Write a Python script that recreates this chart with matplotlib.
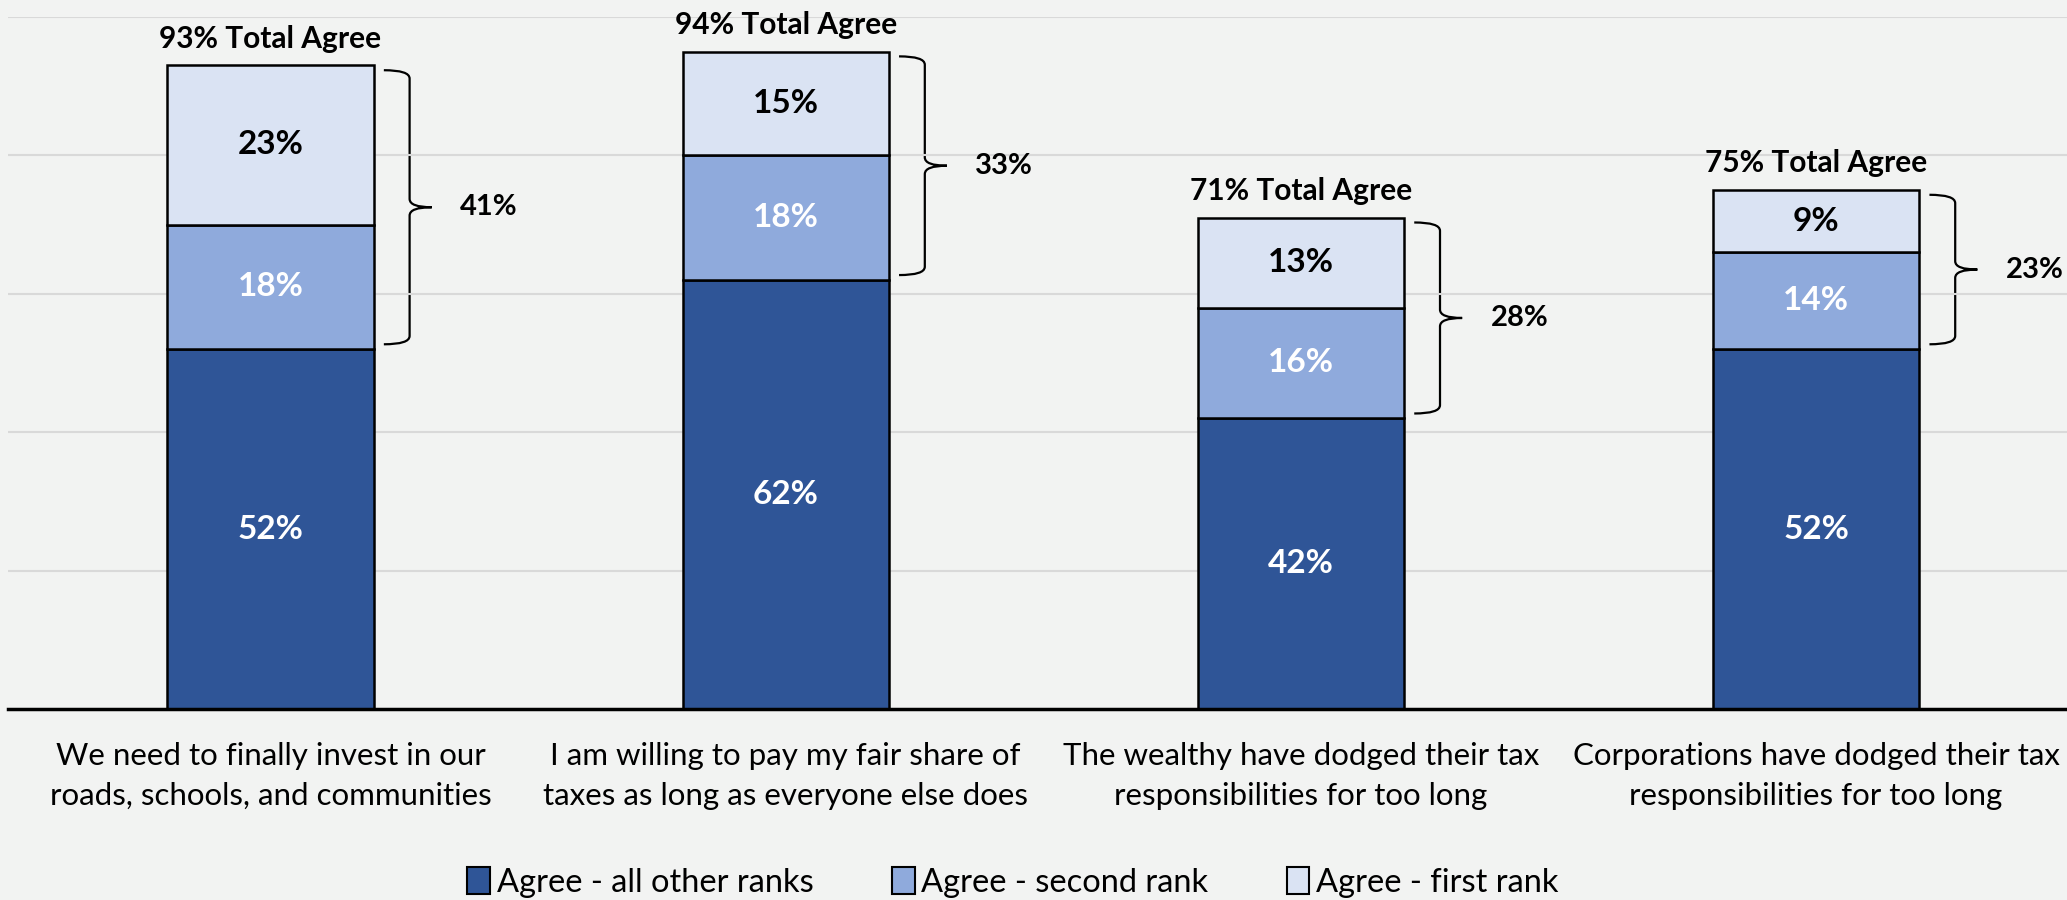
import numpy as np
import matplotlib
matplotlib.use("Agg")
from matplotlib import pyplot as plt
from matplotlib.path import Path
from matplotlib.patches import PathPatch, Patch

plt.rcParams['font.family'] = ['Lato', 'DejaVu Sans']

# data
categories = [
    "We need to finally invest in our\nroads, schools, and communities",
    "I am willing to pay my fair share of\ntaxes as long as everyone else does",
    "The wealthy have dodged their tax\nresponsibilities for too long",
    "Corporations have dodged their tax\nresponsibilities for too long",
]
other_ranks = [52, 62, 42, 52]
second_rank = [18, 18, 16, 14]
first_rank = [23, 15, 13, 9]
total_agree = [93, 94, 71, 75]
top_two = [41, 33, 28, 23]
series_names = ["Agree - all other ranks", "Agree - second rank", "Agree - first rank"]

BG = '#F2F3F2'
colors = ['#2F5597', '#8FAADC', '#DAE3F3']
text_colors = ['white', 'white', 'black']


def brace(ax, x0, y_lo, y_hi, r=1.2):
    # right-facing curly bracket from y_lo to y_hi, starting at x0
    xv = x0 + 0.05
    xt = x0 + 0.093
    ym = (y_lo + y_hi) / 2
    verts = [(x0, y_hi), (xv, y_hi), (xv, y_hi - r),
             (xv, ym + r),
             (xv, ym), (xt, ym),
             (xv, ym), (xv, ym - r),
             (xv, y_lo + r),
             (xv, y_lo), (x0, y_lo)]
    codes = [Path.MOVETO, Path.CURVE3, Path.CURVE3,
             Path.LINETO,
             Path.CURVE3, Path.CURVE3,
             Path.CURVE3, Path.CURVE3,
             Path.LINETO,
             Path.CURVE3, Path.CURVE3]
    ax.add_patch(PathPatch(Path(verts, codes), fill=False, lw=1.6, color='black',
                           capstyle='butt', clip_on=False))
    return xt


fig = plt.figure(figsize=(20.67, 9), dpi=100, facecolor=BG)
ax = fig.add_axes([0.004, 0.2122, 0.996, 0.769])
ax.set_facecolor(BG)

x = np.arange(len(categories))
width = 0.4
bottom = np.zeros(len(categories))
for vals, col, tcol, name in zip([other_ranks, second_rank, first_rank], colors, text_colors, series_names):
    vals = np.array(vals)
    ax.bar(x, vals, width, bottom=bottom, color=col, edgecolor='black', linewidth=1.8,
           label=name, zorder=3)
    for xi, b, v in zip(x, bottom, vals):
        ax.text(xi, b + v / 2, f"{v}%", ha='center', va='center', color=tcol,
                fontsize=24, fontweight='bold', zorder=4)
    bottom = bottom + vals

# total labels and brackets
for xi, tot, lo, seg2, seg1, pair in zip(x, total_agree, other_ranks, second_rank, first_rank, top_two):
    top = lo + seg2 + seg1
    ax.annotate(f"{tot}% Total Agree", (xi, top), xytext=(0, 9), textcoords='offset points',
                ha='center', va='bottom', fontsize=21.5, fontweight='bold')
    xt = brace(ax, xi + width / 2 + 0.02, lo + 0.7, top - 0.7)
    ax.text(xt + 0.055, (lo + top) / 2, f"{pair}%", ha='left', va='center',
            fontsize=21, fontweight='bold')

ax.set_xlim(-0.509, 3.487)
ax.set_ylim(0, 100)
ax.set_yticks([20, 40, 60, 80, 100])
ax.set_yticklabels([])
ax.grid(axis='y', color='#D9D9D9', lw=1.5, zorder=0)
ax.set_xticks(x)
ax.set_xticklabels(categories, fontsize=22.5, linespacing=1.5)
ax.tick_params(axis='both', length=0)
ax.tick_params(axis='x', pad=24)
for s in ['top', 'left', 'right']:
    ax.spines[s].set_visible(False)
ax.spines['bottom'].set_linewidth(2.5)
ax.spines['bottom'].set_zorder(5)

handles = [Patch(facecolor=c, edgecolor='black', lw=1.5) for c in colors]
fig.legend(handles, series_names, loc='lower center', bbox_to_anchor=(0.49, -0.03), ncol=3,
           frameon=False, fontsize=23.5, handlelength=0.7, handleheight=0.9,
           handletextpad=0.2, columnspacing=2.4)

fig.savefig('out.png', dpi=100, facecolor=BG)
